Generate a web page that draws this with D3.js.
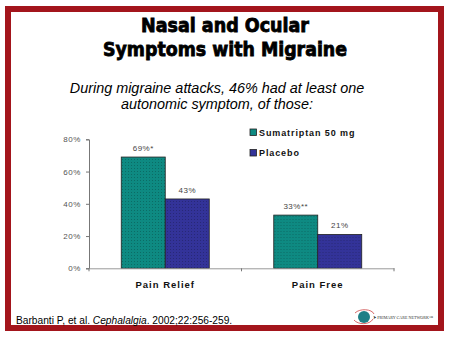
<!DOCTYPE html>
<html>
<head>
<meta charset="utf-8">
<script src="https://cdn.jsdelivr.net/npm/d3@7"></script>
<style>
  html, body { margin: 0; padding: 0; background: #fff; }
  svg { display: block; }
</style>
</head>
<body>
<svg id="chart" width="450" height="338"></svg>
<script>
// Outcome categories and the two treatment series (percent of patients)
const categories = ["Pain Relief", "Pain Free"];
const seriesNames = ["Sumatriptan 50 mg", "Placebo"];
const sumatriptan = [69, 33];
const placebo = [43, 21];
const valueLabels = [["69%*", "43%"], ["33%**", "21%"]];
const yTicks = [0, 20, 40, 60, 80];
const colors = ["#0e8a82", "#333399"];

const svg = d3.select("#chart");

// Dark-red slide frame
svg.append("rect")
  .attr("x", 8).attr("y", 9).attr("width", 433).attr("height", 319)
  .attr("fill", "none").attr("stroke", "#a3151c").attr("stroke-width", 6);

// Title (heavy condensed)
const titleLines = [
  { t: "Nasal and Ocular", y: 32, w: 168 },
  { t: "Symptoms with Migraine", y: 55.5, w: 244 }
];
svg.selectAll("text.title").data(titleLines).join("text")
  .attr("class", "title")
  .attr("x", 225).attr("y", d => d.y)
  .attr("text-anchor", "middle")
  .attr("font-family", "'DejaVu Sans Condensed', 'DejaVu Sans', sans-serif")
  .attr("font-weight", "bold")
  .attr("font-size", 20)
  .attr("textLength", d => d.w)
  .attr("lengthAdjust", "spacingAndGlyphs")
  .attr("fill", "#000")
  .attr("stroke", "#000").attr("stroke-width", 0.8)
  .text(d => d.t);

// Subtitle
const subLines = [
  { t: "During migraine attacks, 46% had at least one", y: 93.3 },
  { t: "autonomic symptom, of those:", y: 108.5 }
];
svg.selectAll("text.sub").data(subLines).join("text")
  .attr("class", "sub")
  .attr("x", 217).attr("y", d => d.y)
  .attr("text-anchor", "middle")
  .attr("font-family", "'Liberation Sans', Arial, sans-serif")
  .attr("font-style", "italic")
  .attr("font-size", 14.4)
  .attr("fill", "#000")
  .text(d => d.t);

// Dotted fill patterns for the bars
const defs = svg.append("defs");
colors.forEach((c, i) => {
  const p = defs.append("pattern")
    .attr("id", "dots" + i)
    .attr("patternUnits", "userSpaceOnUse")
    .attr("width", 3).attr("height", 3);
  p.append("rect").attr("width", 3).attr("height", 3).attr("fill", c);
  p.append("rect").attr("x", 0).attr("y", 0).attr("width", 1).attr("height", 1)
    .attr("fill", "#000").attr("opacity", 0.22);
});

// Plot area
const x0 = 89, x1 = 394, yBase = 268.3, yTop = 139.3;
const x = d3.scaleBand().domain(categories).range([x0, x1]).paddingInner(0).paddingOuter(0);
const xs = d3.scaleBand().domain(seriesNames).range([0, x.bandwidth()]).paddingInner(0).paddingOuter(0.733);
const y = d3.scaleLinear().domain([0, 80]).range([yBase, yTop]);

// Y axis
const yAxis = svg.append("g")
  .attr("transform", `translate(${x0},0)`)
  .call(d3.axisLeft(y).tickValues(yTicks).tickFormat(d => d + "%").tickSize(3).tickPadding(5));
yAxis.select(".domain").attr("stroke", "#777");
yAxis.selectAll(".tick line").attr("stroke", "#777");
yAxis.selectAll(".tick text")
  .attr("font-family", "'Liberation Sans', Arial, sans-serif")
  .attr("font-size", 8)
  .attr("letter-spacing", 0.6)
  .attr("fill", "#555");

// Bars
const rows = categories.map((c, i) => ({ cat: c, vals: [sumatriptan[i], placebo[i]], labels: valueLabels[i] }));
const groups = svg.selectAll("g.cat").data(rows).join("g")
  .attr("class", "cat")
  .attr("transform", d => `translate(${x(d.cat)},0)`);

groups.selectAll("rect").data(d => d.vals.map((v, j) => ({ v, j }))).join("rect")
  .attr("x", d => xs(seriesNames[d.j]))
  .attr("y", d => y(d.v))
  .attr("width", xs.bandwidth())
  .attr("height", d => yBase - y(d.v))
  .attr("fill", d => `url(#dots${d.j})`)
  .attr("stroke", "#222").attr("stroke-width", 0.8);

groups.selectAll("text.val").data(d => d.vals.map((v, j) => ({ v, j, l: d.labels[j] }))).join("text")
  .attr("class", "val")
  .attr("x", d => xs(seriesNames[d.j]) + xs.bandwidth() / 2)
  .attr("y", d => y(d.v) - 6)
  .attr("text-anchor", "middle")
  .attr("font-family", "'Liberation Sans', Arial, sans-serif")
  .attr("font-size", 8)
  .attr("letter-spacing", 0.5)
  .attr("fill", "#444")
  .text(d => d.l);

// X axis
const xAxis = svg.append("g")
  .attr("transform", `translate(0,${yBase})`)
  .call(d3.axisBottom(x).tickSize(0).tickFormat(""));
xAxis.select(".domain").attr("stroke", "#999");
svg.selectAll("line.xtick").data([x0, x0 + x.bandwidth(), x1]).join("line")
  .attr("class", "xtick")
  .attr("x1", d => d).attr("x2", d => d)
  .attr("y1", yBase).attr("y2", yBase + 3)
  .attr("stroke", "#777");

svg.selectAll("text.cat").data(categories).join("text")
  .attr("class", "cat")
  .attr("x", d => x(d) + x.bandwidth() / 2)
  .attr("y", 288)
  .attr("text-anchor", "middle")
  .attr("font-family", "'Liberation Sans', Arial, sans-serif")
  .attr("font-weight", "bold")
  .attr("font-size", 9.5)
  .attr("letter-spacing", 1)
  .attr("fill", "#111")
  .text(d => d);

// Legend
const legend = svg.selectAll("g.leg").data(seriesNames).join("g")
  .attr("class", "leg")
  .attr("transform", (d, i) => `translate(250,${129 + i * 20.5})`);
legend.append("rect")
  .attr("width", 6.5).attr("height", 6.5)
  .attr("fill", (d, i) => colors[i])
  .attr("stroke", "#222").attr("stroke-width", 0.8);
legend.append("text")
  .attr("x", 9).attr("y", 6.5)
  .attr("font-family", "'Liberation Sans', Arial, sans-serif")
  .attr("font-weight", "bold")
  .attr("font-size", 9)
  .attr("letter-spacing", 0.9)
  .attr("fill", "#111")
  .text(d => d);

// Citation
const cite = svg.append("text")
  .attr("x", 16).attr("y", 324)
  .attr("font-family", "'Liberation Sans', Arial, sans-serif")
  .attr("font-size", 10.2)
  .attr("fill", "#000");
cite.append("tspan").text("Barbanti P, et al. ");
cite.append("tspan").attr("font-style", "italic").text("Cephalalgia");
cite.append("tspan").text(". 2002;22:256-259.");

// Network logo
const logo = svg.append("g").attr("transform", "translate(364,317)");
logo.append("path")
  .attr("d", "M-9,-4 C-4,-9 8,-8 10,-3")
  .attr("fill", "none").attr("stroke", "#c44").attr("stroke-width", 0.8);
logo.append("circle").attr("r", 6).attr("fill", "#1e7f86");
logo.append("path")
  .attr("d", "M-10,3 C-6,8 6,8 9,2")
  .attr("fill", "none").attr("stroke", "#c44").attr("stroke-width", 0.8);
logo.append("text")
  .attr("x", 9).attr("y", 2)
  .attr("font-family", "'Liberation Serif', serif")
  .attr("font-size", 5)
  .attr("textLength", 60)
  .attr("lengthAdjust", "spacingAndGlyphs")
  .attr("fill", "#333")
  .text("➤ PRIMARY CARE NETWORK™");
</script>
</body>
</html>
